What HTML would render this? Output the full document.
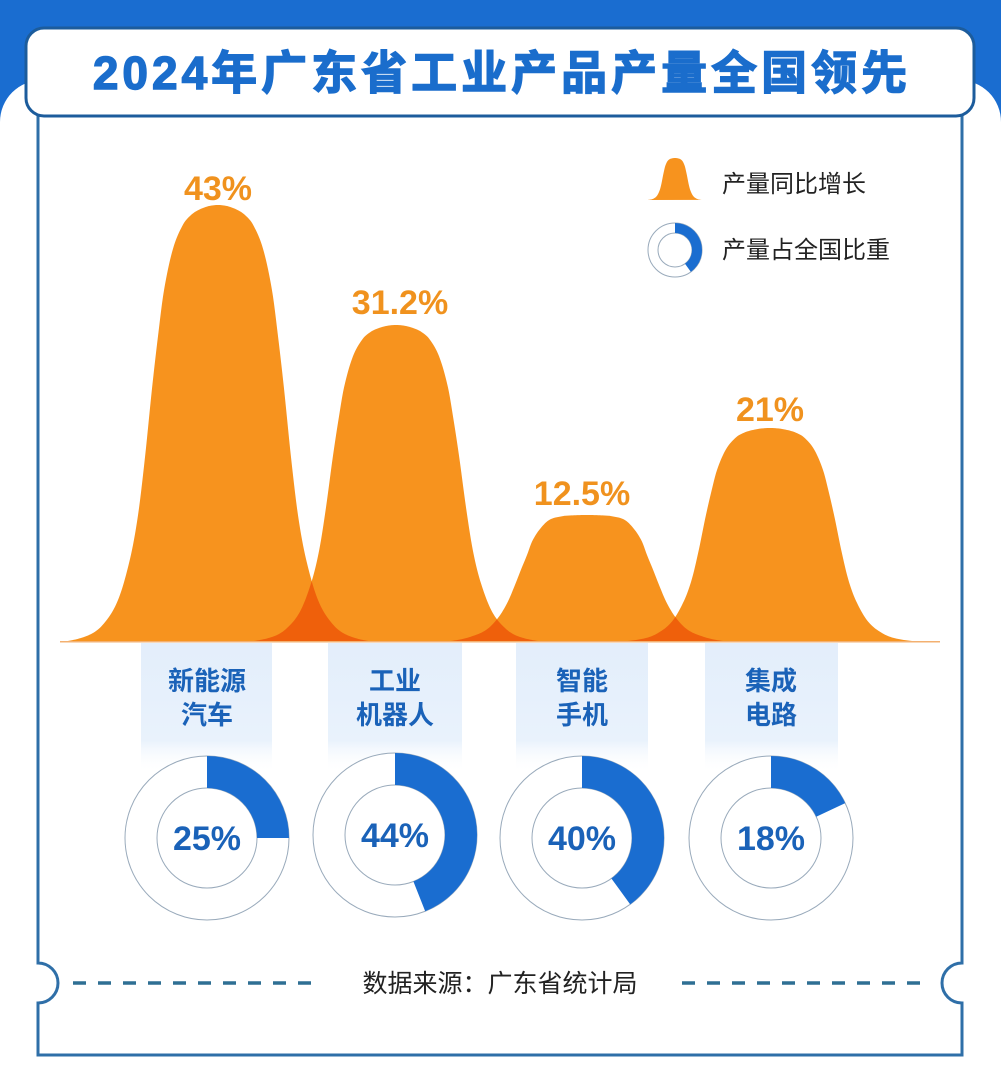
<!DOCTYPE html>
<html><head><meta charset="utf-8">
<style>
html,body{margin:0;padding:0;}
body{width:1001px;height:1092px;position:relative;overflow:hidden;background:#fff;font-family:"Liberation Sans","Noto Sans CJK SC",sans-serif;}
</style></head>
<body>
<svg width="1001" height="1092" style="position:absolute;left:0;top:0">
  <defs>
    <linearGradient id="col" x1="0" y1="0" x2="0" y2="1">
      <stop offset="0" stop-color="#e3eefb"/>
      <stop offset="0.75" stop-color="#e9f2fc"/>
      <stop offset="1" stop-color="#ffffff" stop-opacity="0"/>
    </linearGradient>
    <clipPath id="c1"><path id="p1c"/></clipPath>
    <clipPath id="c2"><path id="p2c"/></clipPath>
    <clipPath id="c3"><path id="p3c"/></clipPath>
  </defs>
  <rect x="0" y="0" width="1001" height="130" fill="#1a6dd0"/>
  <rect x="0" y="80" width="1001" height="1012" rx="42" fill="#fff"/>
  <rect x="0" y="125" width="1001" height="967" fill="#fff"/>
  <path d="M38 100 H962 V963 A20 20 0 0 0 962 1003 V1055 H38 V1003 A20 20 0 0 0 38 963 Z" fill="#fff" stroke="#2f6fa8" stroke-width="3"/>
  <rect x="26" y="28" width="948" height="88" rx="18" fill="#fff" stroke="#1c5c9c" stroke-width="3"/>
  <text x="502" y="89" text-anchor="middle" font-size="46" font-weight="bold" fill="#1a6dcc" stroke="#1a6dcc" stroke-width="1.4" letter-spacing="4">2024年广东省工业产品产量全国领先</text>

  <rect x="141" y="643" width="131" height="130" fill="url(#col)"/>
  <rect x="328" y="643" width="134" height="130" fill="url(#col)"/>
  <rect x="516" y="643" width="132" height="130" fill="url(#col)"/>
  <rect x="705" y="643" width="133" height="130" fill="url(#col)"/>

  <g id="curves"></g>

  <g font-size="34" font-weight="bold" fill="#f0921e" text-anchor="middle">
    <text x="218" y="200">43%</text>
    <text x="400" y="314">31.2%</text>
    <text x="582" y="505">12.5%</text>
    <text x="770" y="421">21%</text>
  </g>
  <g font-size="26" font-weight="bold" fill="#1a62b8" text-anchor="middle">
    <text x="207" y="690">新能源</text><text x="207" y="724">汽车</text>
    <text x="395" y="690">工业</text><text x="395" y="724">机器人</text>
    <text x="582" y="690">智能</text><text x="582" y="724">手机</text>
    <text x="771" y="690">集成</text><text x="771" y="724">电路</text>
  </g>
  <g id="donuts"></g>

  <path id="legbell" fill="#f7931e"/>
  <g id="legdonut"></g>
  <g font-size="24" fill="#222">
    <text x="722" y="192">产量同比增长</text>
    <text x="722" y="258">产量占全国比重</text>
  </g>

  <line x1="73" y1="983" x2="318" y2="983" stroke="#2e6f93" stroke-width="3.5" stroke-dasharray="13 12"/>
  <line x1="682" y1="983" x2="930" y2="983" stroke="#2e6f93" stroke-width="3.5" stroke-dasharray="13 12"/>
  <text x="500" y="992" text-anchor="middle" font-size="25" fill="#222">数据来源：广东省统计局</text>
</svg>
<script>
var base=642;
var T1=[[-10,.997],[0,1],[10,.997],[20,.988],[27,.977],[35,.955],[45,.9],[54,.805],[60,.70],[66,.58],[73,.423],[80,.29],[88,.19],[100,.096],[115,.04],[130,.015],[157,0],[180,0]];
var T3=[[-15,.997],[0,1],[15,.997],[25,.99],[38,.96],[48,.88],[55,.79],[60,.685],[66,.57],[72,.45],[79,.32],[88,.2],[100,.1],[115,.045],[130,.015],[150,0],[180,0]];
function prof(T,d){d=Math.abs(d);
 for(var i=2;i<T.length-1;i++){if(d<=T[i][0]){
  var p0=T[i-2],p1=T[i-1],p2=T[i],p3=T[i+1];
  var h=p2[0]-p1[0],t=(d-p1[0])/h;
  var m1=(p2[1]-p0[1])/(p2[0]-p0[0])*h, m2=(p3[1]-p1[1])/(p3[0]-p1[0])*h;
  var t2=t*t,t3=t2*t;
  var v=(2*t3-3*t2+1)*p1[1]+(t3-2*t2+t)*m1+(-2*t3+3*t2)*p2[1]+(t3-t2)*m2;
  return Math.max(0,Math.min(1,v));}}
 return 0;}
var C=[[218,437,1,T1],[396,317,0.96,T1],[587,127,1,T3],[770,214,0.98,T1]];
function path(c,x0,x1){var d="M"+x0+" "+base;for(var x=x0;x<=x1;x+=1){var y=base-c[1]*prof(c[3],(x-c[0])/c[2]);d+=" L"+x+" "+y.toFixed(2);}d+=" L"+x1+" "+base+" Z";return d;}
var ns="http://www.w3.org/2000/svg";
var g=document.getElementById("curves");
var P=C.map(function(c){return path(c,60,940);});
P.forEach(function(d){var e=document.createElementNS(ns,"path");e.setAttribute("d",d);e.setAttribute("fill","#f7931e");g.appendChild(e);});
for(var i=0;i<3;i++){document.getElementById("p"+(i+1)+"c").setAttribute("d",P[i]);
var e=document.createElementNS(ns,"path");e.setAttribute("d",P[i+1]);e.setAttribute("fill","#ef600b");e.setAttribute("clip-path","url(#c"+(i+1)+")");g.appendChild(e);}
var bl=document.createElementNS(ns,"rect");bl.setAttribute("x",60);bl.setAttribute("y",641);bl.setAttribute("width",880);bl.setAttribute("height",1.5);bl.setAttribute("fill","#f3b070");g.appendChild(bl);
function donut(parent,cx,cy,R,r,pct,txt,fs,sw){
 var h="";
 h+='<circle cx="'+cx+'" cy="'+cy+'" r="'+R+'" fill="#fff" stroke="#9ab" stroke-width="'+sw+'"/>';
 h+='<circle cx="'+cx+'" cy="'+cy+'" r="'+r+'" fill="#fff" stroke="#9ab" stroke-width="'+sw+'"/>';
 var a=pct*2*Math.PI,sx=cx,sy=cy-R,ex=cx+R*Math.sin(a),ey=cy-R*Math.cos(a),ix=cx+r*Math.sin(a),iy=cy-r*Math.cos(a);
 var lg=pct>0.5?1:0;
 h+='<path d="M'+sx+' '+sy+' A'+R+' '+R+' 0 '+lg+' 1 '+ex.toFixed(2)+' '+ey.toFixed(2)+' L'+ix.toFixed(2)+' '+iy.toFixed(2)+' A'+r+' '+r+' 0 '+lg+' 0 '+cx+' '+(cy-r)+' Z" fill="#1a6dd0"/>';
 if(txt)h+='<text x="'+cx+'" y="'+(cy+12)+'" text-anchor="middle" font-size="'+fs+'" font-weight="bold" fill="#1a62b8">'+txt+'</text>';
 parent.innerHTML+=h;
}
var dg=document.getElementById("donuts");
donut(dg,207,838,82,50,0.25,"25%",34,1);
donut(dg,395,835,82,50,0.44,"44%",34,1);
donut(dg,582,838,82,50,0.40,"40%",34,1);
donut(dg,771,838,82,50,0.18,"18%",34,1);
donut(document.getElementById("legdonut"),675,250,27,17,0.40,"",0,1);
document.getElementById("legbell").setAttribute("d",(function(){var d="M648 200";for(var x=648;x<=702;x+=0.5){d+=" L"+x+" "+(200-42*prof(T1,(x-675)*5.5)).toFixed(2);}return d+" Z";})());
</script>
</body></html>
